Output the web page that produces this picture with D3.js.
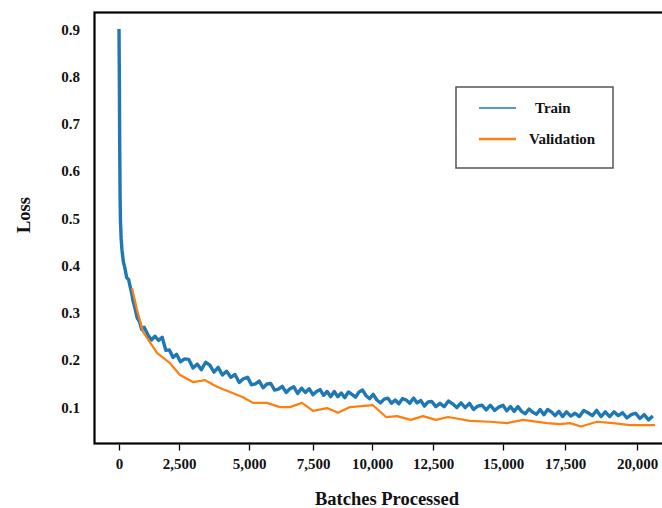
<!DOCTYPE html>
<html>
<head>
<meta charset="utf-8">
<script src="https://cdn.jsdelivr.net/npm/d3@7"></script>
<style>
    body { margin: 0; background: #fff; }
    text { font-family: "Liberation Serif", "Times New Roman", serif; font-weight: bold; fill: #111; }
</style>
</head>
<body>
<svg id="loss_plot" width="662" height="508"></svg>
<script>
// ---- data ----
const xTicks = [0, 2500, 5000, 7500, 10000, 12500, 15000, 17500, 20000];
const yTicks = [0.1, 0.2, 0.3, 0.4, 0.5, 0.6, 0.7, 0.8, 0.9];

// first 1000 batches, logged densely
const trainHeadBatch = [0, 15, 30, 45, 60, 90, 125, 180, 250, 320, 400, 460, 520, 583, 650, 750, 850, 950];
const trainHeadLoss  = [0.904, 0.80, 0.65, 0.55, 0.50, 0.46, 0.436, 0.412, 0.397, 0.378, 0.374, 0.360, 0.347, 0.329, 0.317, 0.294, 0.285, 0.268];

// after that one value every 150 batches, starting at 1050
const trainStart = 1050;
const trainStep  = 150;
const trainLoss  = [
    0.273, 0.257, 0.246, 0.254, 0.245, 0.252, 0.224, 0.225, 0.209, 0.216,
    0.200, 0.206, 0.205, 0.187, 0.195, 0.183, 0.199, 0.193, 0.178, 0.188,
    0.172, 0.180, 0.167, 0.173, 0.156, 0.164, 0.167, 0.151, 0.153, 0.159,
    0.145, 0.153, 0.154, 0.140, 0.142, 0.148, 0.135, 0.143, 0.147, 0.133,
    0.144, 0.135, 0.143, 0.130, 0.137, 0.141, 0.129, 0.137, 0.126, 0.137,
    0.126, 0.134, 0.124, 0.136, 0.131, 0.125, 0.136, 0.140, 0.128, 0.122,
    0.131, 0.119, 0.113, 0.121, 0.123, 0.112, 0.119, 0.111, 0.122, 0.119,
    0.112, 0.123, 0.113, 0.118, 0.106, 0.115, 0.116, 0.105, 0.112, 0.105,
    0.117, 0.111, 0.103, 0.113, 0.103, 0.112, 0.099, 0.106, 0.108, 0.098,
    0.108, 0.097, 0.104, 0.108, 0.096, 0.105, 0.095, 0.105, 0.095, 0.090,
    0.100, 0.093, 0.089, 0.099, 0.088, 0.099, 0.094, 0.086, 0.095, 0.084,
    0.094, 0.085, 0.091, 0.084, 0.097, 0.092, 0.086, 0.097, 0.084, 0.094,
    0.084, 0.094, 0.086, 0.092, 0.081, 0.088, 0.091, 0.080, 0.088, 0.077,
    0.085
];

const validBatch = [542, 750, 1000, 1583, 2125, 2536, 3000, 3429, 3857, 4321, 4786, 5156, 5703, 6211, 6602,
                    7070, 7500, 8093, 8559, 9068, 10041, 10574, 11025, 11598, 12090, 12607, 13036, 13821,
                    14536, 15161, 15806, 16774, 17298, 17674, 18056, 18611, 19167, 19757, 20625];
const validLoss  = [0.356, 0.310, 0.263, 0.219, 0.197, 0.172, 0.157, 0.161, 0.147, 0.136, 0.125, 0.113, 0.113, 0.104, 0.104,
                    0.113, 0.096, 0.102, 0.092, 0.104, 0.108, 0.083, 0.085, 0.077, 0.085, 0.077, 0.083, 0.075,
                    0.073, 0.070, 0.077, 0.070, 0.068, 0.070, 0.063, 0.073, 0.070, 0.066, 0.066];

const seriesNames  = ["Train", "Validation"];
const seriesColors = ["#1f77b4", "#ff7f0e"];

// ---- build point lists ----
const train = trainHeadBatch.map((b, i) => [b, trainHeadLoss[i]])
    .concat(trainLoss.map((l, i) => [trainStart + i * trainStep, l]));
const valid = validBatch.map((b, i) => [b, validLoss[i]]);

const svg = d3.select("#loss_plot");

const frame = { left: 94.5, top: 12.5, bottom: 443.5, right: 672 };

// the tick spacing in the original is uneven, so the x scale is piecewise
const xScale = d3.scaleLinear()
    .domain(xTicks)
    .range([119, 179, 249, 313, 372, 433, 503, 565, 637]);

const yScale = d3.scaleLinear()
    .domain([0.1, 0.9])
    .range([409, 31]);

// frame
svg.append("rect")
    .attr("x", frame.left)
    .attr("y", frame.top)
    .attr("width", frame.right - frame.left)
    .attr("height", frame.bottom - frame.top)
    .attr("fill", "none")
    .attr("stroke", "#000")
    .attr("stroke-width", 2.2);

// x axis
const xAxis = d3.axisBottom(xScale)
    .tickValues(xTicks)
    .tickFormat(d3.format(","))
    .tickSize(6)
    .tickPadding(8);

const gx = svg.append("g")
    .attr("transform", `translate(0,${frame.bottom + 1})`)
    .call(xAxis);
gx.select(".domain").remove();
gx.selectAll(".tick line").attr("stroke", "#000").attr("stroke-width", 1.3);
gx.selectAll("text")
    .style("font-family", "Liberation Serif, serif")
    .style("font-weight", "bold")
    .style("font-size", "15px")
    .attr("fill", "#111");

// y axis (labels only)
const yAxis = d3.axisLeft(yScale)
    .tickValues(yTicks)
    .tickFormat(d3.format(".1f"))
    .tickSize(0)
    .tickPadding(14.5);

const gy = svg.append("g")
    .attr("transform", `translate(${frame.left},0)`)
    .call(yAxis);
gy.select(".domain").remove();
gy.selectAll("text")
    .style("font-family", "Liberation Serif, serif")
    .style("font-weight", "bold")
    .style("font-size", "15px")
    .attr("dy", "0.2em")
    .attr("fill", "#111");

// axis titles
svg.append("text")
    .attr("x", 387)
    .attr("y", 505)
    .attr("text-anchor", "middle")
    .style("font-size", "18.5px")
    .text("Batches Processed");

svg.append("text")
    .attr("transform", "translate(30,215) rotate(-90)")
    .attr("text-anchor", "middle")
    .style("font-size", "18.5px")
    .text("Loss");

// lines
const line = d3.line()
    .x(d => xScale(d[0]))
    .y(d => yScale(d[1]));

svg.append("path")
    .datum(train)
    .attr("d", line)
    .attr("fill", "none")
    .attr("stroke", seriesColors[0])
    .attr("stroke-width", 3.4)
    .attr("stroke-linejoin", "round");

svg.append("path")
    .datum(valid)
    .attr("d", line)
    .attr("fill", "none")
    .attr("stroke", seriesColors[1])
    .attr("stroke-width", 2.2)
    .attr("stroke-linejoin", "round");

// legend
const legend = svg.append("g").attr("transform", "translate(456,87)");

legend.append("rect")
    .attr("width", 157)
    .attr("height", 81)
    .attr("fill", "#fff")
    .attr("stroke", "#555")
    .attr("stroke-width", 1.5);

const legendRows = [
    { name: seriesNames[0], color: seriesColors[0], y: 21, width: 1.6, tx: 79 },
    { name: seriesNames[1], color: seriesColors[1], y: 52, width: 2.6, tx: 73 }
];

legendRows.forEach(r => {
    legend.append("line")
        .attr("x1", 23).attr("x2", 60)
        .attr("y1", r.y).attr("y2", r.y)
        .attr("stroke", r.color)
        .attr("stroke-width", r.width);
    legend.append("text")
        .attr("x", r.tx)
        .attr("y", r.y + 5)
        .style("font-size", "15px")
        .text(r.name);
});
</script>
</body>
</html>
